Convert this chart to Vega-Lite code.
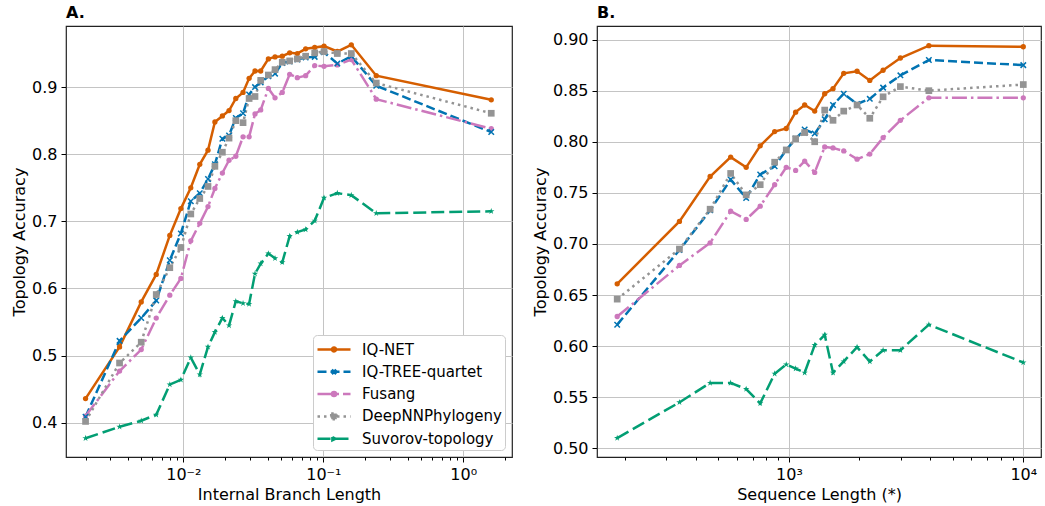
{
"$schema": "https://vega.github.io/schema/vega-lite/v6.json",
"padding": {"left": 10, "top": 4, "right": 2, "bottom": 4},
"spacing": 18,
"datasets": {
"a": [
{"s":"IQ-NET","x":0.002,"y":0.436},{"s":"IQ-NET","x":0.0035,"y":0.513},{"s":"IQ-NET","x":0.005,"y":0.580},{"s":"IQ-NET","x":0.0064,"y":0.621},{"s":"IQ-NET","x":0.008,"y":0.679},{"s":"IQ-NET","x":0.0096,"y":0.719},{"s":"IQ-NET","x":0.0113,"y":0.750},{"s":"IQ-NET","x":0.0131,"y":0.785},{"s":"IQ-NET","x":0.015,"y":0.806},{"s":"IQ-NET","x":0.0168,"y":0.848},{"s":"IQ-NET","x":0.019,"y":0.857},{"s":"IQ-NET","x":0.0212,"y":0.865},{"s":"IQ-NET","x":0.0237,"y":0.883},{"s":"IQ-NET","x":0.0267,"y":0.892},{"s":"IQ-NET","x":0.0295,"y":0.913},{"s":"IQ-NET","x":0.0325,"y":0.924},{"s":"IQ-NET","x":0.0357,"y":0.924},{"s":"IQ-NET","x":0.0405,"y":0.942},{"s":"IQ-NET","x":0.0452,"y":0.945},{"s":"IQ-NET","x":0.0509,"y":0.946},{"s":"IQ-NET","x":0.0575,"y":0.951},{"s":"IQ-NET","x":0.0652,"y":0.950},{"s":"IQ-NET","x":0.0748,"y":0.957},{"s":"IQ-NET","x":0.0868,"y":0.959},{"s":"IQ-NET","x":0.1012,"y":0.961},{"s":"IQ-NET","x":0.1259,"y":0.953},{"s":"IQ-NET","x":0.1585,"y":0.963},{"s":"IQ-NET","x":0.239,"y":0.917},{"s":"IQ-NET","x":1.585,"y":0.881},
{"s":"IQ-TREE-quartet","x":0.002,"y":0.409},{"s":"IQ-TREE-quartet","x":0.0035,"y":0.522},{"s":"IQ-TREE-quartet","x":0.005,"y":0.556},{"s":"IQ-TREE-quartet","x":0.0064,"y":0.582},{"s":"IQ-TREE-quartet","x":0.008,"y":0.642},{"s":"IQ-TREE-quartet","x":0.0096,"y":0.682},{"s":"IQ-TREE-quartet","x":0.0113,"y":0.730},{"s":"IQ-TREE-quartet","x":0.0131,"y":0.742},{"s":"IQ-TREE-quartet","x":0.015,"y":0.763},{"s":"IQ-TREE-quartet","x":0.0168,"y":0.785},{"s":"IQ-TREE-quartet","x":0.019,"y":0.823},{"s":"IQ-TREE-quartet","x":0.0212,"y":0.828},{"s":"IQ-TREE-quartet","x":0.0237,"y":0.854},{"s":"IQ-TREE-quartet","x":0.0267,"y":0.861},{"s":"IQ-TREE-quartet","x":0.0295,"y":0.889},{"s":"IQ-TREE-quartet","x":0.0325,"y":0.900},{"s":"IQ-TREE-quartet","x":0.0357,"y":0.907},{"s":"IQ-TREE-quartet","x":0.0405,"y":0.916},{"s":"IQ-TREE-quartet","x":0.0452,"y":0.920},{"s":"IQ-TREE-quartet","x":0.0509,"y":0.936},{"s":"IQ-TREE-quartet","x":0.0575,"y":0.938},{"s":"IQ-TREE-quartet","x":0.0652,"y":0.941},{"s":"IQ-TREE-quartet","x":0.0748,"y":0.944},{"s":"IQ-TREE-quartet","x":0.0868,"y":0.945},{"s":"IQ-TREE-quartet","x":0.1012,"y":0.952},{"s":"IQ-TREE-quartet","x":0.1259,"y":0.935},{"s":"IQ-TREE-quartet","x":0.1585,"y":0.946},{"s":"IQ-TREE-quartet","x":0.239,"y":0.902},{"s":"IQ-TREE-quartet","x":1.585,"y":0.833},
{"s":"Fusang","x":0.002,"y":0.410},{"s":"Fusang","x":0.0035,"y":0.477},{"s":"Fusang","x":0.005,"y":0.509},{"s":"Fusang","x":0.0064,"y":0.556},{"s":"Fusang","x":0.008,"y":0.590},{"s":"Fusang","x":0.0096,"y":0.615},{"s":"Fusang","x":0.0113,"y":0.671},{"s":"Fusang","x":0.0131,"y":0.697},{"s":"Fusang","x":0.015,"y":0.722},{"s":"Fusang","x":0.0168,"y":0.749},{"s":"Fusang","x":0.019,"y":0.772},{"s":"Fusang","x":0.0212,"y":0.791},{"s":"Fusang","x":0.0237,"y":0.797},{"s":"Fusang","x":0.0267,"y":0.826},{"s":"Fusang","x":0.0295,"y":0.826},{"s":"Fusang","x":0.0325,"y":0.860},{"s":"Fusang","x":0.0357,"y":0.866},{"s":"Fusang","x":0.0405,"y":0.898},{"s":"Fusang","x":0.0452,"y":0.884},{"s":"Fusang","x":0.0509,"y":0.892},{"s":"Fusang","x":0.0575,"y":0.919},{"s":"Fusang","x":0.0652,"y":0.914},{"s":"Fusang","x":0.0748,"y":0.917},{"s":"Fusang","x":0.0868,"y":0.932},{"s":"Fusang","x":0.1012,"y":0.931},{"s":"Fusang","x":0.1259,"y":0.933},{"s":"Fusang","x":0.1585,"y":0.941},{"s":"Fusang","x":0.239,"y":0.882},{"s":"Fusang","x":1.585,"y":0.838},
{"s":"DeepNNPhylogeny","x":0.002,"y":0.402},{"s":"DeepNNPhylogeny","x":0.0035,"y":0.489},{"s":"DeepNNPhylogeny","x":0.005,"y":0.520},{"s":"DeepNNPhylogeny","x":0.0064,"y":0.591},{"s":"DeepNNPhylogeny","x":0.008,"y":0.631},{"s":"DeepNNPhylogeny","x":0.0096,"y":0.661},{"s":"DeepNNPhylogeny","x":0.0113,"y":0.711},{"s":"DeepNNPhylogeny","x":0.0131,"y":0.734},{"s":"DeepNNPhylogeny","x":0.015,"y":0.752},{"s":"DeepNNPhylogeny","x":0.0168,"y":0.782},{"s":"DeepNNPhylogeny","x":0.019,"y":0.803},{"s":"DeepNNPhylogeny","x":0.0212,"y":0.824},{"s":"DeepNNPhylogeny","x":0.0237,"y":0.850},{"s":"DeepNNPhylogeny","x":0.0267,"y":0.847},{"s":"DeepNNPhylogeny","x":0.0295,"y":0.883},{"s":"DeepNNPhylogeny","x":0.0325,"y":0.886},{"s":"DeepNNPhylogeny","x":0.0357,"y":0.910},{"s":"DeepNNPhylogeny","x":0.0405,"y":0.918},{"s":"DeepNNPhylogeny","x":0.0452,"y":0.926},{"s":"DeepNNPhylogeny","x":0.0509,"y":0.937},{"s":"DeepNNPhylogeny","x":0.0575,"y":0.939},{"s":"DeepNNPhylogeny","x":0.0652,"y":0.942},{"s":"DeepNNPhylogeny","x":0.0748,"y":0.946},{"s":"DeepNNPhylogeny","x":0.0868,"y":0.951},{"s":"DeepNNPhylogeny","x":0.1012,"y":0.953},{"s":"DeepNNPhylogeny","x":0.1259,"y":0.950},{"s":"DeepNNPhylogeny","x":0.1585,"y":0.950},{"s":"DeepNNPhylogeny","x":0.239,"y":0.906},{"s":"DeepNNPhylogeny","x":1.585,"y":0.861},
{"s":"Suvorov-topology","x":0.002,"y":0.377},{"s":"Suvorov-topology","x":0.0035,"y":0.394},{"s":"Suvorov-topology","x":0.005,"y":0.403},{"s":"Suvorov-topology","x":0.0064,"y":0.412},{"s":"Suvorov-topology","x":0.008,"y":0.457},{"s":"Suvorov-topology","x":0.0096,"y":0.464},{"s":"Suvorov-topology","x":0.0113,"y":0.497},{"s":"Suvorov-topology","x":0.0131,"y":0.472},{"s":"Suvorov-topology","x":0.015,"y":0.513},{"s":"Suvorov-topology","x":0.0168,"y":0.535},{"s":"Suvorov-topology","x":0.019,"y":0.556},{"s":"Suvorov-topology","x":0.0212,"y":0.545},{"s":"Suvorov-topology","x":0.0237,"y":0.581},{"s":"Suvorov-topology","x":0.0267,"y":0.578},{"s":"Suvorov-topology","x":0.0295,"y":0.577},{"s":"Suvorov-topology","x":0.0325,"y":0.622},{"s":"Suvorov-topology","x":0.0357,"y":0.637},{"s":"Suvorov-topology","x":0.0405,"y":0.652},{"s":"Suvorov-topology","x":0.0452,"y":0.645},{"s":"Suvorov-topology","x":0.0509,"y":0.639},{"s":"Suvorov-topology","x":0.0575,"y":0.678},{"s":"Suvorov-topology","x":0.0652,"y":0.684},{"s":"Suvorov-topology","x":0.0748,"y":0.688},{"s":"Suvorov-topology","x":0.0868,"y":0.701},{"s":"Suvorov-topology","x":0.1012,"y":0.735},{"s":"Suvorov-topology","x":0.1259,"y":0.742},{"s":"Suvorov-topology","x":0.1585,"y":0.739},{"s":"Suvorov-topology","x":0.239,"y":0.712},{"s":"Suvorov-topology","x":1.585,"y":0.715}
],
"b": [
{"s":"IQ-NET","x":185,"y":0.661},{"s":"IQ-NET","x":341,"y":0.722},{"s":"IQ-NET","x":461,"y":0.766},{"s":"IQ-NET","x":564,"y":0.785},{"s":"IQ-NET","x":657,"y":0.775},{"s":"IQ-NET","x":754,"y":0.796},{"s":"IQ-NET","x":869,"y":0.810},{"s":"IQ-NET","x":974,"y":0.813},{"s":"IQ-NET","x":1068,"y":0.829},{"s":"IQ-NET","x":1167,"y":0.836},{"s":"IQ-NET","x":1288,"y":0.830},{"s":"IQ-NET","x":1421,"y":0.847},{"s":"IQ-NET","x":1542,"y":0.852},{"s":"IQ-NET","x":1713,"y":0.867},{"s":"IQ-NET","x":1953,"y":0.869},{"s":"IQ-NET","x":2213,"y":0.860},{"s":"IQ-NET","x":2522,"y":0.870},{"s":"IQ-NET","x":2989,"y":0.882},{"s":"IQ-NET","x":3954,"y":0.894},{"s":"IQ-NET","x":10000,"y":0.893},
{"s":"IQ-TREE-quartet","x":185,"y":0.621},{"s":"IQ-TREE-quartet","x":341,"y":0.694},{"s":"IQ-TREE-quartet","x":461,"y":0.733},{"s":"IQ-TREE-quartet","x":564,"y":0.763},{"s":"IQ-TREE-quartet","x":657,"y":0.745},{"s":"IQ-TREE-quartet","x":754,"y":0.768},{"s":"IQ-TREE-quartet","x":869,"y":0.776},{"s":"IQ-TREE-quartet","x":974,"y":0.792},{"s":"IQ-TREE-quartet","x":1068,"y":0.803},{"s":"IQ-TREE-quartet","x":1167,"y":0.812},{"s":"IQ-TREE-quartet","x":1288,"y":0.808},{"s":"IQ-TREE-quartet","x":1421,"y":0.822},{"s":"IQ-TREE-quartet","x":1542,"y":0.836},{"s":"IQ-TREE-quartet","x":1713,"y":0.847},{"s":"IQ-TREE-quartet","x":1953,"y":0.837},{"s":"IQ-TREE-quartet","x":2213,"y":0.842},{"s":"IQ-TREE-quartet","x":2522,"y":0.853},{"s":"IQ-TREE-quartet","x":2989,"y":0.865},{"s":"IQ-TREE-quartet","x":3954,"y":0.880},{"s":"IQ-TREE-quartet","x":10000,"y":0.875},
{"s":"Fusang","x":185,"y":0.629},{"s":"Fusang","x":341,"y":0.679},{"s":"Fusang","x":461,"y":0.701},{"s":"Fusang","x":564,"y":0.732},{"s":"Fusang","x":657,"y":0.724},{"s":"Fusang","x":754,"y":0.737},{"s":"Fusang","x":869,"y":0.758},{"s":"Fusang","x":974,"y":0.775},{"s":"Fusang","x":1068,"y":0.772},{"s":"Fusang","x":1167,"y":0.781},{"s":"Fusang","x":1288,"y":0.770},{"s":"Fusang","x":1421,"y":0.795},{"s":"Fusang","x":1542,"y":0.794},{"s":"Fusang","x":1713,"y":0.791},{"s":"Fusang","x":1953,"y":0.783},{"s":"Fusang","x":2213,"y":0.788},{"s":"Fusang","x":2522,"y":0.804},{"s":"Fusang","x":2989,"y":0.821},{"s":"Fusang","x":3954,"y":0.843},{"s":"Fusang","x":10000,"y":0.843},
{"s":"DeepNNPhylogeny","x":185,"y":0.646},{"s":"DeepNNPhylogeny","x":341,"y":0.695},{"s":"DeepNNPhylogeny","x":461,"y":0.734},{"s":"DeepNNPhylogeny","x":564,"y":0.769},{"s":"DeepNNPhylogeny","x":657,"y":0.748},{"s":"DeepNNPhylogeny","x":754,"y":0.758},{"s":"DeepNNPhylogeny","x":869,"y":0.780},{"s":"DeepNNPhylogeny","x":974,"y":0.792},{"s":"DeepNNPhylogeny","x":1068,"y":0.803},{"s":"DeepNNPhylogeny","x":1167,"y":0.809},{"s":"DeepNNPhylogeny","x":1288,"y":0.800},{"s":"DeepNNPhylogeny","x":1421,"y":0.831},{"s":"DeepNNPhylogeny","x":1542,"y":0.821},{"s":"DeepNNPhylogeny","x":1713,"y":0.830},{"s":"DeepNNPhylogeny","x":1953,"y":0.836},{"s":"DeepNNPhylogeny","x":2213,"y":0.823},{"s":"DeepNNPhylogeny","x":2522,"y":0.844},{"s":"DeepNNPhylogeny","x":2989,"y":0.854},{"s":"DeepNNPhylogeny","x":3954,"y":0.850},{"s":"DeepNNPhylogeny","x":10000,"y":0.856},
{"s":"Suvorov-topology","x":185,"y":0.510},{"s":"Suvorov-topology","x":341,"y":0.545},{"s":"Suvorov-topology","x":461,"y":0.564},{"s":"Suvorov-topology","x":564,"y":0.564},{"s":"Suvorov-topology","x":657,"y":0.558},{"s":"Suvorov-topology","x":754,"y":0.544},{"s":"Suvorov-topology","x":869,"y":0.573},{"s":"Suvorov-topology","x":974,"y":0.582},{"s":"Suvorov-topology","x":1068,"y":0.578},{"s":"Suvorov-topology","x":1167,"y":0.574},{"s":"Suvorov-topology","x":1288,"y":0.601},{"s":"Suvorov-topology","x":1421,"y":0.611},{"s":"Suvorov-topology","x":1542,"y":0.574},{"s":"Suvorov-topology","x":1713,"y":0.585},{"s":"Suvorov-topology","x":1953,"y":0.599},{"s":"Suvorov-topology","x":2213,"y":0.585},{"s":"Suvorov-topology","x":2522,"y":0.596},{"s":"Suvorov-topology","x":2989,"y":0.596},{"s":"Suvorov-topology","x":3954,"y":0.621},{"s":"Suvorov-topology","x":10000,"y":0.584}
]
},
"hconcat": [
{
"width": 446, "height": 431,
"title": {"text": "A."},
"data": {"name": "a"},
"encoding": {
  "x": {"field": "x", "type": "quantitative", "title": "Internal Branch Length",
    "scale": {"type": "log", "domain": [0.00145, 2.23], "nice": false},
    "axis": {"values": [0.002,0.003,0.004,0.005,0.006,0.007,0.008,0.009,0.01,0.02,0.03,0.04,0.05,0.06,0.07,0.08,0.09,0.1,0.2,0.3,0.4,0.5,0.6,0.7,0.8,0.9,1,2],
      "labelExpr": "datum.value == 0.01 ? '10⁻²' : datum.value == 0.1 ? '10⁻¹' : datum.value == 1 ? '10⁰' : ''",
      "labelOverlap": false, "labelBound": false,
      "tickSize": {"condition": {"test": "datum.value == 0.01 || datum.value == 0.1 || datum.value == 1", "value": 5}, "value": 3},
      "gridOpacity": {"condition": {"test": "datum.value == 0.01 || datum.value == 0.1 || datum.value == 1", "value": 1}, "value": 0}}},
  "y": {"field": "y", "type": "quantitative", "title": "Topology Accuracy",
    "scale": {"domain": [0.349, 0.991], "nice": false, "zero": false},
    "axis": {"values": [0.4,0.5,0.6,0.7,0.8,0.9], "format": ".1f", "tickSize": 5}},
  "color": {"field": "s", "type": "nominal", "legend": null,
    "scale": {"domain": ["IQ-NET","IQ-TREE-quartet","Fusang","DeepNNPhylogeny","Suvorov-topology"], "range": ["#d55e00","#0173b2","#cc78bc","#949494","#029e73"]}}
},
"layer": [
  {"transform": [{"filter": "false"}],
   "mark": {"type": "point", "filled": true, "opacity": 1, "strokeWidth": 2.5},
   "encoding": {
     "color": {"value": "#000000"},
     "fill": {"field": "s", "type": "nominal", "title": null,
       "scale": {"domain": ["IQ-NET","IQ-TREE-quartet","Fusang","DeepNNPhylogeny","Suvorov-topology"], "range": ["#d55e00","#0173b2","#cc78bc","#949494","#029e73"]},
       "legend": {"title": null, "orient": "bottom-right", "offset": 7, "fillColor": "white", "strokeColor": "#cccccc", "cornerRadius": 4, "padding": 3, "labelFontSize": 15, "labelFont": "DejaVu Sans", "labelColor": "#000", "symbolSize": 400, "symbolStrokeWidth": 2.5, "symbolOpacity": 1, "rowPadding": 2.3, "labelOffset": 23}},
     "stroke": {"field": "s", "type": "nominal", "title": null,
       "scale": {"domain": ["IQ-NET","IQ-TREE-quartet","Fusang","DeepNNPhylogeny","Suvorov-topology"], "range": ["#d55e00","#0173b2","#cc78bc","#949494","#029e73"]},
       "legend": {"title": null}},
     "shape": {"field": "s", "type": "nominal", "title": null,
       "scale": {"domain": ["IQ-NET","IQ-TREE-quartet","Fusang","DeepNNPhylogeny","Suvorov-topology"],
         "range": ["M-1,0L2.3,0M0.45,0A0.2,0.2 0 1,0 0.85,0A0.2,0.2 0 1,0 0.45,0Z",
                   "M-1,0L2.3,0M0.43,-0.22L0.87,0.22M0.43,0.22L0.87,-0.22",
                   "M-1,0L2.3,0M0.45,0A0.2,0.2 0 1,0 0.85,0A0.2,0.2 0 1,0 0.45,0Z",
                   "M-1,0L2.3,0M0.37,-0.28L0.93,-0.28L0.93,0.28L0.37,0.28Z",
                   "M-1,0L2.3,0M0.49,-0.16L0.81,0L0.49,0.16Z"]},
       "legend": {"title": null}},
     "strokeDash": {"field": "s", "type": "nominal", "title": null,
       "scale": {"domain": ["IQ-NET","IQ-TREE-quartet","Fusang","DeepNNPhylogeny","Suvorov-topology"], "range": [[1,0],[9,4],[15,4,2.5,4],[2.5,4],[13,5]]},
       "legend": {"title": null}}
   }},
  {"transform": [{"filter": {"field": "s", "equal": "IQ-NET"}}], "mark": {"type": "line", "strokeWidth": 2.5}},
  {"transform": [{"filter": {"field": "s", "equal": "IQ-TREE-quartet"}}], "mark": {"type": "line", "strokeWidth": 2.5, "strokeDash": [9,4]}},
  {"transform": [{"filter": {"field": "s", "equal": "Fusang"}}], "mark": {"type": "line", "strokeWidth": 2.5, "strokeDash": [15,4,2.5,4]}},
  {"transform": [{"filter": {"field": "s", "equal": "DeepNNPhylogeny"}}], "mark": {"type": "line", "strokeWidth": 2.5, "strokeDash": [2.5,4]}},
  {"transform": [{"filter": {"field": "s", "equal": "Suvorov-topology"}}], "mark": {"type": "line", "strokeWidth": 2.5, "strokeDash": [13,5]}},
  {"transform": [{"filter": {"field": "s", "oneOf": ["IQ-NET","Fusang"]}}],
   "mark": {"type": "point", "shape": "circle", "filled": true, "size": 28, "opacity": 1}},
  {"transform": [{"filter": {"field": "s", "equal": "IQ-TREE-quartet"}}],
   "mark": {"type": "point", "shape": "M-1,-1L1,1M-1,1L1,-1", "filled": false, "size": 30, "strokeWidth": 1.5, "opacity": 1}},
  {"transform": [{"filter": {"field": "s", "equal": "DeepNNPhylogeny"}}],
   "mark": {"type": "point", "shape": "square", "filled": true, "size": 45, "opacity": 1}},
  {"transform": [{"filter": {"field": "s", "equal": "Suvorov-topology"}}],
   "mark": {"type": "point", "shape": "M0,-1L0.22,-0.31L0.95,-0.31L0.36,0.12L0.59,0.81L0,0.38L-0.59,0.81L-0.36,0.12L-0.95,-0.31L-0.22,-0.31Z", "filled": true, "size": 45, "opacity": 1}}
]
},
{
"width": 444, "height": 431,
"title": {"text": "B."},
"data": {"name": "b"},
"encoding": {
  "x": {"field": "x", "type": "quantitative", "title": "Sequence Length (*)",
    "scale": {"type": "log", "domain": [151.7, 11900], "nice": false},
    "axis": {"values": [200,300,400,500,600,700,800,900,1000,2000,3000,4000,5000,6000,7000,8000,9000,10000],
      "labelExpr": "datum.value == 1000 ? '10³' : datum.value == 10000 ? '10⁴' : ''",
      "labelOverlap": false, "labelBound": false,
      "tickSize": {"condition": {"test": "datum.value == 1000 || datum.value == 10000", "value": 5}, "value": 3},
      "gridOpacity": {"condition": {"test": "datum.value == 1000 || datum.value == 10000", "value": 1}, "value": 0}}},
  "y": {"field": "y", "type": "quantitative", "title": "Topology Accuracy",
    "scale": {"domain": [0.4915, 0.9133], "nice": false, "zero": false},
    "axis": {"values": [0.5,0.55,0.6,0.65,0.7,0.75,0.8,0.85,0.9], "format": ".2f", "tickSize": 5}},
  "color": {"field": "s", "type": "nominal", "legend": null,
    "scale": {"domain": ["IQ-NET","IQ-TREE-quartet","Fusang","DeepNNPhylogeny","Suvorov-topology"], "range": ["#d55e00","#0173b2","#cc78bc","#949494","#029e73"]}}
},
"layer": [
  {"transform": [{"filter": {"field": "s", "equal": "IQ-NET"}}], "mark": {"type": "line", "strokeWidth": 2.5}},
  {"transform": [{"filter": {"field": "s", "equal": "IQ-TREE-quartet"}}], "mark": {"type": "line", "strokeWidth": 2.5, "strokeDash": [9,4]}},
  {"transform": [{"filter": {"field": "s", "equal": "Fusang"}}], "mark": {"type": "line", "strokeWidth": 2.5, "strokeDash": [15,4,2.5,4]}},
  {"transform": [{"filter": {"field": "s", "equal": "DeepNNPhylogeny"}}], "mark": {"type": "line", "strokeWidth": 2.5, "strokeDash": [2.5,4]}},
  {"transform": [{"filter": {"field": "s", "equal": "Suvorov-topology"}}], "mark": {"type": "line", "strokeWidth": 2.5, "strokeDash": [13,5]}},
  {"transform": [{"filter": {"field": "s", "oneOf": ["IQ-NET","Fusang"]}}],
   "mark": {"type": "point", "shape": "circle", "filled": true, "size": 28, "opacity": 1}},
  {"transform": [{"filter": {"field": "s", "equal": "IQ-TREE-quartet"}}],
   "mark": {"type": "point", "shape": "M-1,-1L1,1M-1,1L1,-1", "filled": false, "size": 30, "strokeWidth": 1.5, "opacity": 1}},
  {"transform": [{"filter": {"field": "s", "equal": "DeepNNPhylogeny"}}],
   "mark": {"type": "point", "shape": "square", "filled": true, "size": 45, "opacity": 1}},
  {"transform": [{"filter": {"field": "s", "equal": "Suvorov-topology"}}],
   "mark": {"type": "point", "shape": "M0,-1L0.22,-0.31L0.95,-0.31L0.36,0.12L0.59,0.81L0,0.38L-0.59,0.81L-0.36,0.12L-0.95,-0.31L-0.22,-0.31Z", "filled": true, "size": 45, "opacity": 1}}
]
}
],
"resolve": {"scale": {"color": "independent", "fill": "independent", "strokeDash": "independent", "shape": "independent", "stroke": "independent"},
            "legend": {"color": "independent", "fill": "independent", "strokeDash": "independent", "shape": "independent", "stroke": "independent"}},
"config": {
  "font": "DejaVu Sans",
  "view": {"stroke": "#222222", "strokeWidth": 1.2},
  "axis": {"labelFont": "DejaVu Sans", "labelFontSize": 16, "labelColor": "#000000", "titleFont": "DejaVu Sans", "titleFontSize": 16, "titleFontWeight": "normal", "titleColor": "#000000", "tickColor": "#000000", "tickWidth": 1, "domain": false, "grid": true, "gridColor": "#c4c4c4", "gridWidth": 1, "labelPadding": 4, "titlePadding": 4},
  "title": {"anchor": "start", "frame": "group", "font": "DejaVu Sans", "fontSize": 16, "fontWeight": "bold", "color": "#000000", "offset": 5}
}
}
